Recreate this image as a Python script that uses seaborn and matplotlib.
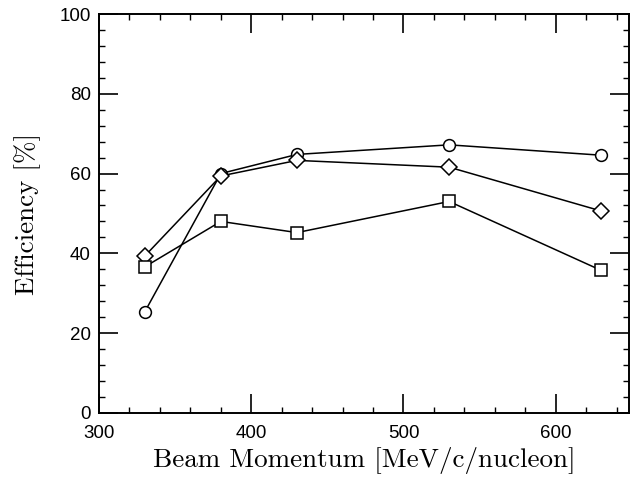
import matplotlib
matplotlib.use("Agg")
import matplotlib.pyplot as plt
import seaborn as sns
import pandas as pd
from matplotlib.ticker import MultipleLocator

momentum = [330, 380, 430, 530, 630]
circles = [25.3, 60.0, 64.8, 67.2, 64.6]
diamonds = [39.3, 59.4, 63.3, 61.6, 50.6]
squares = [36.6, 48.0, 45.2, 53.0, 35.7]

df = pd.DataFrame({
    "momentum": momentum * 3,
    "eff": circles + diamonds + squares,
    "series": ["circle"] * 5 + ["diamond"] * 5 + ["square"] * 5,
})

sns.set_style("ticks")
plt.rcParams["font.family"] = ["Liberation Sans", "DejaVu Sans"]

fig = plt.figure(figsize=(6.39, 4.84), dpi=100)
ax = fig.add_axes([0.155, 0.147, 0.829, 0.824])

sns.lineplot(data=df, x="momentum", y="eff", style="series",
             markers={"circle": "o", "diamond": "D", "square": "s"},
             dashes=False, color="black", linewidth=1.1,
             markersize=8.5, markerfacecolor="white", markeredgecolor="black",
             markeredgewidth=1.1, legend=False, ax=ax)

ax.set_xlim(300, 648)
ax.set_ylim(0, 100)
ax.xaxis.set_major_locator(MultipleLocator(100))
ax.xaxis.set_minor_locator(MultipleLocator(20))
ax.yaxis.set_major_locator(MultipleLocator(20))
ax.yaxis.set_minor_locator(MultipleLocator(4))
ax.tick_params(which="both", direction="in", top=True, right=True,
               color="black", labelsize=13.5, labelcolor="black")
ax.tick_params(which="major", length=14, width=1.2)
ax.tick_params(which="minor", length=4.5, width=1.0)
ax.tick_params(axis="x", which="major", pad=9)
ax.tick_params(axis="y", which="major", pad=6)
for s in ax.spines.values():
    s.set_linewidth(1.4)
    s.set_color("black")

ax.set_xlabel("Beam Momentum [MeV/c/nucleon]", fontfamily="cmr10", fontsize=19.5,
              color="black", labelpad=3)
ax.set_ylabel("Efficiency [%]", fontfamily="cmr10", fontsize=19.5,
              color="black", labelpad=13)

fig.savefig("out.png", dpi=100)
